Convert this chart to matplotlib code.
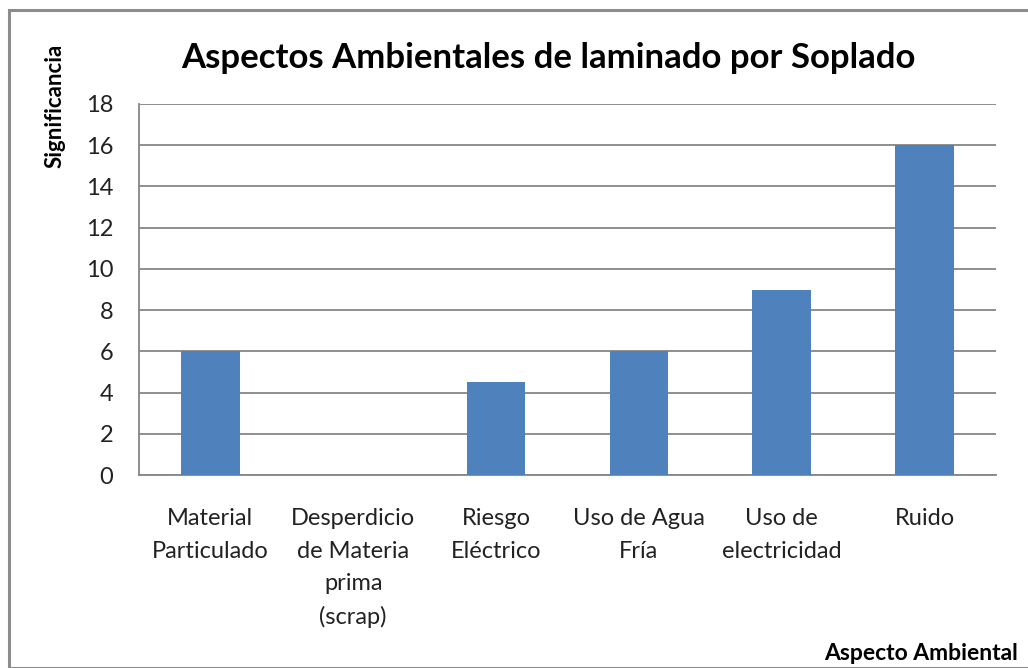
import matplotlib
matplotlib.use("Agg")
import matplotlib.pyplot as plt
from matplotlib.patches import Rectangle

categories = ["Material\nParticulado", "Desperdicio\nde Materia\nprima\n(scrap)",
              "Riesgo\nEléctrico", "Uso de Agua\nFría", "Uso de\nelectricidad", "Ruido"]
values = [6, 0, 4.5, 6, 9, 16]
yticks = [0, 2, 4, 6, 8, 10, 12, 14, 16, 18]

W, H = 1028, 668
fig = plt.figure(figsize=(W / 100, H / 100), dpi=100)
plt.rcParams['font.family'] = ['Lato', 'DejaVu Sans']

# outer border
fig.patches.append(Rectangle((9 / W, 0), 1.2, 1 - 10 / H, transform=fig.transFigure,
                             fill=False, edgecolor='#8c8c8c', linewidth=2.2))

left, right, top, bottom = 139, 996, 104, 475
ax = fig.add_axes([left / W, 1 - bottom / H, (right - left) / W, (bottom - top) / H])
x = list(range(len(categories)))
ax.bar(x, values, width=0.41, color='#4F81BD', zorder=3)
ax.set_xlim(-0.5, len(categories) - 0.5)
ax.set_ylim(0, 18)
ax.set_yticks(yticks)
ax.set_yticklabels([str(t) for t in yticks], fontsize=17, color='#222222')
ax.set_xticks(x)
ax.set_xticklabels(categories, fontsize=17, color='#222222', linespacing=1.66, va='top')
ax.tick_params(axis='both', length=0)
ax.tick_params(axis='y', pad=18.5)
ax.tick_params(axis='x', pad=24)
ax.grid(axis='y', color='#868686', linewidth=1.3, zorder=0)
for s in ['top', 'right']:
    ax.spines[s].set_visible(False)
for s in ['left', 'bottom']:
    ax.spines[s].set_color('#868686')
    ax.spines[s].set_linewidth(1.3)

fig.text(548 / W, 1 - 58 / H, "Aspectos Ambientales de laminado por Soplado",
         ha='center', va='center', fontsize=25, fontweight='bold', color='black')
fig.text(55 / W, 1 - 106 / H, "Significancia", rotation=90, ha='center', va='center',
         fontsize=16, fontweight='bold', color='black')
fig.text(824 / W, 1 - 654 / H, "Aspecto Ambiental", ha='left', va='center',
         fontsize=16.5, fontweight='bold', color='black')

fig.savefig("out.png", dpi=100)
